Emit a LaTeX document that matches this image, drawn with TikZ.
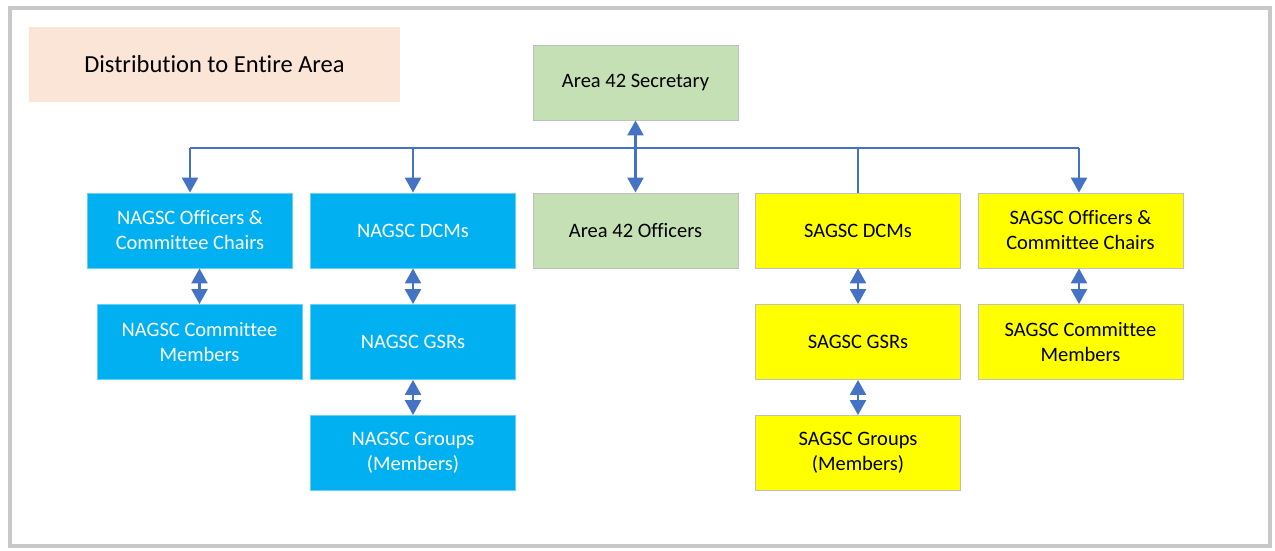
\documentclass[tikz,border=0pt]{standalone}
\usepackage{fontspec}
\setmainfont{Carlito}[Ligatures={NoCommon}]
\usetikzlibrary{arrows.meta}
\definecolor{frame}{HTML}{C8C8C8}
\definecolor{peach}{HTML}{FBE5D6}
\definecolor{green42}{HTML}{C5E0B4}
\definecolor{nblue}{HTML}{00B0F0}
\definecolor{syellow}{HTML}{FFFF00}
\definecolor{conn}{HTML}{4472C4}
\definecolor{edge}{HTML}{C0C0C0}
\tikzset{
  box/.style={rectangle, draw=edge, line width=0.9pt, minimum width=205pt, minimum height=75pt,
    inner sep=0pt, align=center, font=\fontsize{20.5}{25}\selectfont},
  greenbox/.style={box, fill=green42, text=black},
  bluebox/.style={box, fill=nblue, text=white, draw=nblue!60!white},
  yellowbox/.style={box, fill=syellow, text=black},
  link/.style={draw=conn, line width=2.5pt},
  tip/.style={link, -{Triangle[width=16pt,length=15pt]}},
  dbl/.style={link, {Triangle[width=16pt,length=15pt]}-{Triangle[width=16pt,length=15pt]}},
}
\begin{document}
\begin{tikzpicture}[x=1pt,y=-1pt]
\useasboundingbox (0,0) rectangle (1275,550);
\fill[white] (0,0) rectangle (1275,550);
\draw[frame, line width=3.5pt] (10,8) rectangle (1270,546);

\node[rectangle, fill=peach, minimum width=371pt, minimum height=75pt, inner sep=0pt,
  font=\fontsize{24.5}{28}\selectfont] (dist) at (214.5,64.5) {Distribution to Entire Area};

\node[greenbox] (sec) at (635.5,82.5) {Area 42 Secretary};

\node[bluebox] (nofc) at (190,230.5) {NAGSC Officers \&\\Committee Chairs};
\node[bluebox] (ndcm) at (413,230.5) {NAGSC DCMs};
\node[greenbox] (aoff) at (635.5,230.5) {Area 42 Officers};
\node[yellowbox] (sdcm) at (858,230.5) {SAGSC DCMs};
\node[yellowbox] (sofc) at (1080.5,230.5) {SAGSC Officers \&\\Committee Chairs};

\node[bluebox] (ncm) at (199.5,342) {NAGSC Committee\\Members};
\node[bluebox] (ngsr) at (413,342) {NAGSC GSRs};
\node[yellowbox] (sgsr) at (858,342) {SAGSC GSRs};
\node[yellowbox] (scm) at (1080.5,342) {SAGSC Committee\\Members};

\node[bluebox] (ngrp) at (413,453) {NAGSC Groups\\(Members)};
\node[yellowbox] (sgrp) at (858,453) {SAGSC Groups\\(Members)};

% bus
\coordinate (bL) at (190,148);
\coordinate (bN) at (413,148);
\coordinate (bS) at (858,148);
\coordinate (bR) at (1079,148);
\draw[link] (bL) -- (bR);
\draw[tip] (bL) -- (bL |- nofc.north);
\draw[tip] (bN) -- (bN |- ndcm.north);
\draw[tip] (bR) -- (bR |- sofc.north);
\draw[link] (sdcm.north) -- (bS);
\draw[dbl] (sec.south) -- (aoff.north);

% vertical pairs
\draw[dbl] (ncm.north |- nofc.south) -- (ncm.north);
\draw[dbl] (ndcm.south) -- (ngsr.north);
\draw[dbl] (ngsr.south) -- (ngrp.north);
\draw[dbl] (sdcm.south) -- (sgsr.north);
\draw[dbl] (sgsr.south) -- (sgrp.north);
\draw[dbl] (bR |- sofc.south) -- (bR |- scm.north);
\end{tikzpicture}
\end{document}
